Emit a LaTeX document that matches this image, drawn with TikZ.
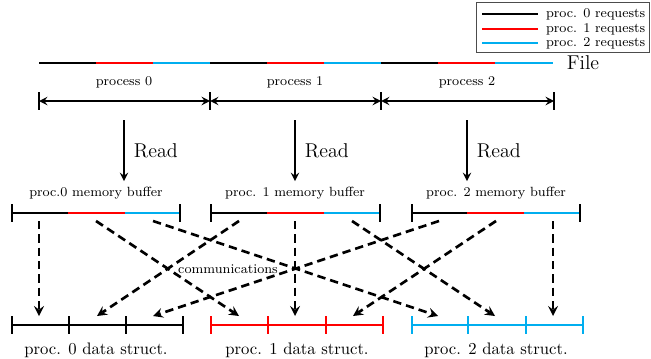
\documentclass[tikz,border=0pt]{standalone}
\usepackage{tikz}

\definecolor{reqred}{RGB}{255,0,0}
\definecolor{reqblue}{RGB}{0,174,239}

\begin{document}
\begin{tikzpicture}[
    x=0.6pt, y=-0.6pt,
    seg/.style={line width=1.5pt},
    tickmark/.style={line width=1.5pt},
    span/.style={<->, >=stealth, line width=1.2pt},
    readarrow/.style={->, >=stealth, line width=1.2pt},
    comm/.style={->, >=stealth, dash pattern=on 5pt off 3pt, line width=1.6pt},
    lbl/.style={font=\footnotesize},
    big/.style={font=\large}
]
\useasboundingbox (0,0) rectangle (651,358);

% --- legend ---
\draw[line width=0.5pt, black!70] (476,2) rectangle (649,52);
\coordinate (lg0a) at (482,14); \coordinate (lg0b) at (538,14);
\coordinate (lg1a) at (482,29); \coordinate (lg1b) at (538,29);
\coordinate (lg2a) at (482,43); \coordinate (lg2b) at (538,43);
\draw[seg, black] (lg0a) -- (lg0b);
\draw[seg, reqred] (lg1a) -- (lg1b);
\draw[seg, reqblue] (lg2a) -- (lg2b);
\node[lbl, right, inner sep=1pt] (lg0) at (544,14) {proc. 0 requests};
\node[lbl, right, inner sep=1pt] (lg1) at (544,29) {proc. 1 requests};
\node[lbl, right, inner sep=1pt] (lg2) at (544,43) {proc. 2 requests};

% --- file ---
\coordinate (f0) at (39,63);  \coordinate (f1) at (96,63);
\coordinate (f2) at (153,63); \coordinate (f3) at (210,63);
\coordinate (f4) at (267,63); \coordinate (f5) at (324,63);
\coordinate (f6) at (381,63); \coordinate (f7) at (438,63);
\coordinate (f8) at (495,63); \coordinate (f9) at (553,63);
\draw[seg, black] (f0) -- (f1);
\draw[seg, reqred] (f1) -- (f2);
\draw[seg, reqblue] (f2) -- (f3);
\draw[seg, black] (f3) -- (f4);
\draw[seg, reqred] (f4) -- (f5);
\draw[seg, reqblue] (f5) -- (f6);
\draw[seg, black] (f6) -- (f7);
\draw[seg, reqred] (f7) -- (f8);
\draw[seg, reqblue] (f8) -- (f9);
\node[big] (file) at (583,63) {File};

% --- process ranges ---
\node[lbl] (p0) at (124,82) {process 0};
\node[lbl] (p1) at (295,82) {process 1};
\node[lbl] (p2) at (467,82) {process 2};
\coordinate (s0) at (39,101);  \coordinate (s1) at (210,101);
\coordinate (s2) at (381,101); \coordinate (s3) at (554,101);
\draw[tickmark] (39,92) -- (39,110);
\draw[tickmark] (210,92) -- (210,110);
\draw[tickmark] (381,92) -- (381,110);
\draw[tickmark] (554,92) -- (554,110);
\draw[span] (s0) -- (s1);
\draw[span] (s1) -- (s2);
\draw[span] (s2) -- (s3);

% --- reads ---
\node[lbl] (mb0) at (96,193) {proc.0 memory buffer};
\node[lbl] (mb1) at (295,193) {proc. 1 memory buffer};
\node[lbl] (mb2) at (496,193) {proc. 2 memory buffer};
\coordinate (r0) at (124,120); \coordinate (r1) at (295,120); \coordinate (r2) at (467,120);
\draw[readarrow] (r0) -- node[big, right=2pt] {Read} (r0 |- mb0.north);
\draw[readarrow] (r1) -- node[big, right=2pt] {Read} (r1 |- mb1.north);
\draw[readarrow] (r2) -- node[big, right=2pt] {Read} (r2 |- mb2.north);

% --- memory buffers ---
\draw[seg, black] (12,213) -- (68,213);
\draw[seg, reqred] (68,213) -- (125,213);
\draw[seg, reqblue] (125,213) -- (180,213);
\draw[seg, black] (211,213) -- (267,213);
\draw[seg, reqred] (267,213) -- (324,213);
\draw[seg, reqblue] (324,213) -- (380,213);
\draw[seg, black] (412,213) -- (467,213);
\draw[seg, reqred] (467,213) -- (524,213);
\draw[seg, reqblue] (524,213) -- (580,213);
\draw[tickmark] (12,204) -- (12,222);
\draw[tickmark] (180,204) -- (180,222);
\draw[tickmark] (211,204) -- (211,222);
\draw[tickmark] (380,204) -- (380,222);
\draw[tickmark] (412,204) -- (412,222);
\draw[tickmark] (580,204) -- (580,222);

% --- data structures ---
\draw[tickmark, black] (12,325) -- (183,325);
\draw[tickmark, black] (12,316) -- (12,334);
\draw[tickmark, black] (69,316) -- (69,334);
\draw[tickmark, black] (126,316) -- (126,334);
\draw[tickmark, black] (183,316) -- (183,334);
\draw[tickmark, reqred] (211,325) -- (383,325);
\draw[tickmark, reqred] (211,316) -- (211,334);
\draw[tickmark, reqred] (268,316) -- (268,334);
\draw[tickmark, reqred] (326,316) -- (326,334);
\draw[tickmark, reqred] (383,316) -- (383,334);
\draw[tickmark, reqblue] (412,325) -- (583,325);
\draw[tickmark, reqblue] (412,316) -- (412,334);
\draw[tickmark, reqblue] (468,316) -- (468,334);
\draw[tickmark, reqblue] (526,316) -- (526,334);
\draw[tickmark, reqblue] (583,316) -- (583,334);
\node (ds0) at (96,350) {proc. 0 data struct.};
\node (ds1) at (297,350) {proc. 1 data struct.};
\node (ds2) at (496,350) {proc. 2 data struct.};

% --- communications ---
\coordinate (b0k) at (39,221);  \coordinate (b0r) at (96,221);  \coordinate (b0c) at (153,221);
\coordinate (b1k) at (239,221); \coordinate (b1r) at (295,221); \coordinate (b1c) at (352,221);
\coordinate (b2k) at (439,221); \coordinate (b2r) at (496,221); \coordinate (b2c) at (553,221);
\coordinate (d0a) at (39,316);  \coordinate (d0b) at (97,316);  \coordinate (d0c) at (153,316);
\coordinate (d1a) at (239,316); \coordinate (d1b) at (295,316); \coordinate (d1c) at (353,316);
\coordinate (d2a) at (438,316); \coordinate (d2b) at (495,316); \coordinate (d2c) at (553,316);
\draw[comm] (b0k) -- (d0a);
\draw[comm] (b0r) -- (d1a);
\draw[comm] (b0c) -- (d2a);
\draw[comm] (b1k) -- (d0b);
\draw[comm] (b1r) -- (d1b);
\draw[comm] (b1c) -- (d2b);
\draw[comm] (b2k) -- (d0c);
\draw[comm] (b2r) -- (d1c);
\draw[comm] (b2c) -- (d2c);
\node[lbl] (com) at (228,269) {communications};

\end{tikzpicture}
\end{document}
